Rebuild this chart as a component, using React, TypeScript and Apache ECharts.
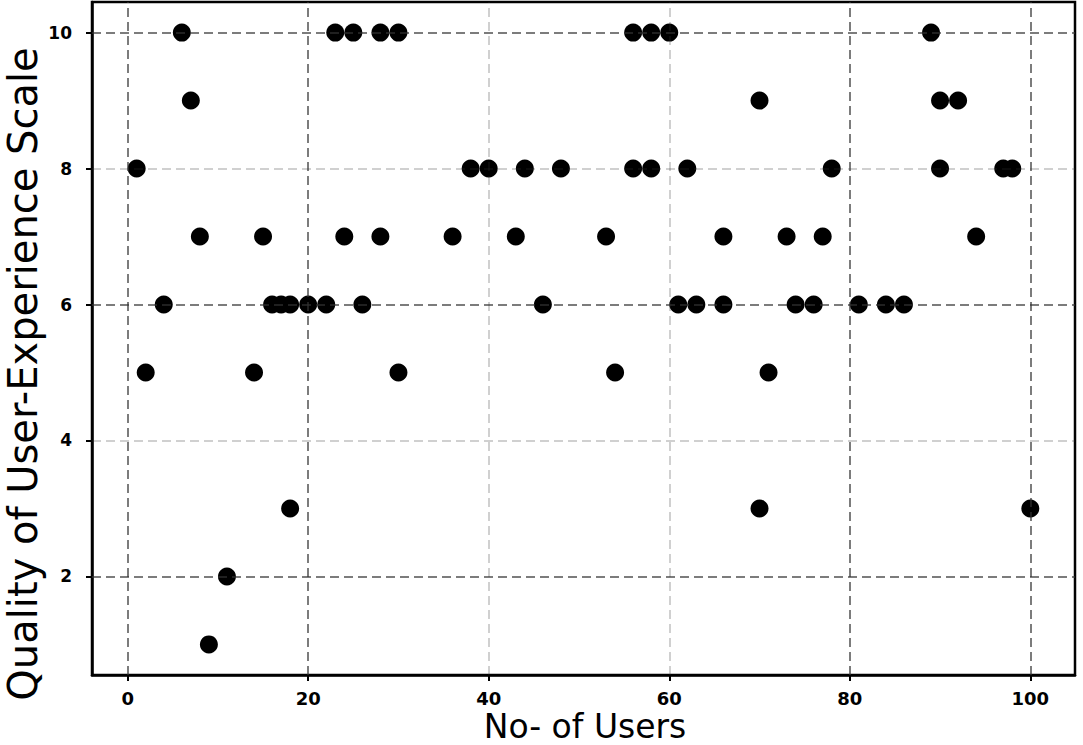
import React, { useEffect, useRef } from "react";
import * as echarts from "echarts";

// Tick values
const xTicks = [0, 20, 40, 60, 80, 100];
const yTicks = [2, 4, 6, 8, 10];
// Grid lines that appear strong in the reference (others faint)
const strongX = [0, 20, 80, 100];
const strongY = [2, 6, 10];

// User numbers (x) at each quality score (y)
const score10 = [6, 23, 25, 28, 30, 56, 58, 60, 89];
const score9 = [7, 70, 90, 92];
const score8 = [1, 38, 40, 44, 48, 56, 58, 62, 78, 90, 97, 98];
const score7 = [8, 15, 24, 28, 36, 43, 53, 66, 73, 77, 94];
const score6 = [4, 16, 17, 18, 20, 22, 26, 46, 61, 63, 66, 74, 76, 81, 84, 86];
const score5 = [2, 14, 30, 54, 71];
const score3 = [18, 70, 100];
const score2 = [11];
const score1 = [9];

const levels: [number, number[]][] = [
  [10, score10],
  [9, score9],
  [8, score8],
  [7, score7],
  [6, score6],
  [5, score5],
  [3, score3],
  [2, score2],
  [1, score1],
];

const xMin = -3.95;
const xMax = 104.95;
const yMin = 0.55;
const yMax = 10.45;

export default function App() {
  const ref = useRef<HTMLDivElement>(null);
  useEffect(() => {
    if (!ref.current) return;
    const chart = echarts.init(ref.current, null, { renderer: "svg" });
    const points: number[][] = [];
    levels.forEach(([y, xs]) => xs.forEach((x) => points.push([x, y])));

    const gridLines: any[] = [];
    xTicks.forEach((v) =>
      gridLines.push({
        xAxis: v,
        lineStyle: { opacity: strongX.includes(v) ? 0.85 : 0.3 },
      })
    );
    yTicks.forEach((v) =>
      gridLines.push({
        yAxis: v,
        lineStyle: { opacity: strongY.includes(v) ? 0.85 : 0.3 },
      })
    );

    chart.setOption({
      animation: false,
      backgroundColor: "#fff",
      grid: {
        left: 92,
        right: 8,
        top: 2,
        bottom: 70,
        show: true,
        borderColor: "#000",
        borderWidth: 2.5,
        backgroundColor: "#fff",
      },
      xAxis: {
        type: "value",
        min: xMin,
        max: xMax,
        axisLine: { show: true, onZero: false, lineStyle: { color: "#000", width: 2.5 } },
        axisTick: {
          show: true,
          customValues: xTicks,
          length: 6,
          lineStyle: { color: "#000", width: 2 },
        },
        axisLabel: {
          customValues: xTicks,
          margin: 14,
          color: "#000",
          fontFamily: "DejaVu Sans",
          fontWeight: "bold",
          fontSize: 18,
        },
        splitLine: { show: false },
      },
      yAxis: {
        type: "value",
        min: yMin,
        max: yMax,
        axisLine: { show: true, onZero: false, lineStyle: { color: "#000", width: 2.5 } },
        axisTick: {
          show: true,
          customValues: yTicks,
          length: 6,
          lineStyle: { color: "#000", width: 2 },
        },
        axisLabel: {
          customValues: yTicks,
          margin: 20,
          color: "#000",
          fontFamily: "DejaVu Sans",
          fontWeight: "bold",
          fontSize: 17,
        },
        splitLine: { show: false },
      },
      graphic: [
        {
          type: "text",
          x: 585,
          y: 726,
          style: {
            text: "No- of Users",
            fontFamily: "DejaVu Sans",
            fontSize: 33,
            fill: "#000",
            align: "center",
            verticalAlign: "middle",
          },
        },
        {
          type: "text",
          x: 23,
          y: 374,
          rotation: Math.PI / 2,
          style: {
            text: "Quality of User-Experience Scale",
            fontFamily: "DejaVu Sans",
            fontSize: 40,
            fill: "#000",
            align: "center",
            verticalAlign: "middle",
          },
        },
      ],
      series: [
        {
          type: "line",
          data: [],
          z: 1,
          silent: true,
          markLine: {
            silent: true,
            symbol: "none",
            label: { show: false },
            animation: false,
            lineStyle: { color: "#333", type: [9, 5], width: 1.5 },
            data: gridLines,
          },
        },
        {
          type: "scatter",
          z: 3,
          data: points,
          symbol: "circle",
          symbolSize: 18,
          itemStyle: { color: "#000", opacity: 1 },
        },
      ],
    });
    return () => chart.dispose();
  }, []);
  return (
    <div
      ref={ref}
      style={{ position: "fixed", left: 0, top: 0, width: 1083, height: 745 }}
    />
  );
}
